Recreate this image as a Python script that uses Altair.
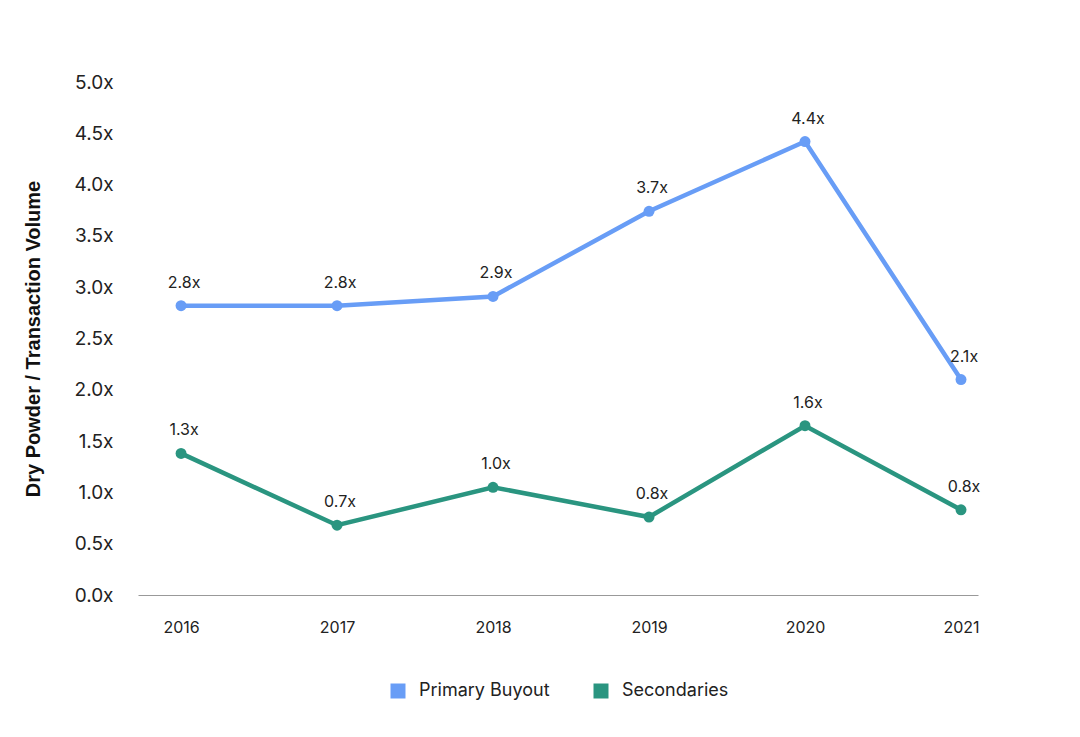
import pandas as pd
import altair as alt

years = [2016, 2017, 2018, 2019, 2020, 2021]
primary_buyout = [2.82, 2.82, 2.91, 3.74, 4.42, 2.10]
secondaries = [1.38, 0.68, 1.05, 0.76, 1.65, 0.83]
primary_labels = ['2.8x', '2.8x', '2.9x', '3.7x', '4.4x', '2.1x']
secondary_labels = ['1.3x', '0.7x', '1.0x', '0.8x', '1.6x', '0.8x']
series_names = ['Primary Buyout', 'Secondaries']
series_colors = ['#689DF6', '#2A9580']

df = pd.concat([
    pd.DataFrame({'year': years, 'ratio': primary_buyout,
                  'label': primary_labels, 'series': series_names[0]}),
    pd.DataFrame({'year': years, 'ratio': secondaries,
                  'label': secondary_labels, 'series': series_names[1]}),
])

FONT = 'Inter'

x = alt.X(
    'year:Q',
    title=None,
    scale=alt.Scale(domain=[2015.724, 2021.109], nice=False, zero=False),
    axis=alt.Axis(values=years, format='d', grid=False, ticks=False,
                  domainColor='#999999', domainWidth=1,
                  labelFontSize=16, labelColor='#222222', labelFont=FONT,
                  labelPadding=24),
)
y = alt.Y(
    'ratio:Q',
    title='Dry Powder / Transaction Volume',
    scale=alt.Scale(domain=[0, 5], nice=False),
    axis=alt.Axis(values=[0, 0.5, 1, 1.5, 2, 2.5, 3, 3.5, 4, 4.5, 5],
                  labelExpr="format(datum.value, '.1f') + 'x'",
                  grid=False, ticks=False, domain=False,
                  labelFontSize=19, labelColor='#222222', labelFont=FONT,
                  labelPadding=25, titleFontSize=20, titleFont='Liberation Sans',
                  titleFontWeight='bold', titleColor='#111111', titlePadding=31),
)
color = alt.Color(
    'series:N',
    scale=alt.Scale(domain=series_names, range=series_colors),
    legend=alt.Legend(title=None, orient='none', direction='horizontal',
                      legendX=251, legendY=600, padding=0,
                      symbolType='square', symbolSize=225, symbolStrokeWidth=0,
                      labelFontSize=18, labelFont=FONT, labelColor='#222222',
                      columnPadding=42, labelOffset=12),
)

base = alt.Chart(df)

lines = base.mark_line(strokeWidth=4.5).encode(x=x, y=y, color=color)
points = base.mark_circle(size=120, opacity=1).encode(x=x, y=y, color=color)
labels = base.mark_text(dy=-23, dx=3, fontSize=16, font=FONT, color='#222222').encode(
    x=x, y=y, text='label:N'
)

chart = (
    alt.layer(lines, points, labels)
    .properties(width=840, height=513,
                autosize=alt.AutoSizeParams(type='none'),
                padding={'left': 130, 'top': 74, 'right': 94, 'bottom': 134})
    .configure_view(stroke=None)
)

chart.save('out.html', embed_options={'renderer': 'svg', 'actions': False})
